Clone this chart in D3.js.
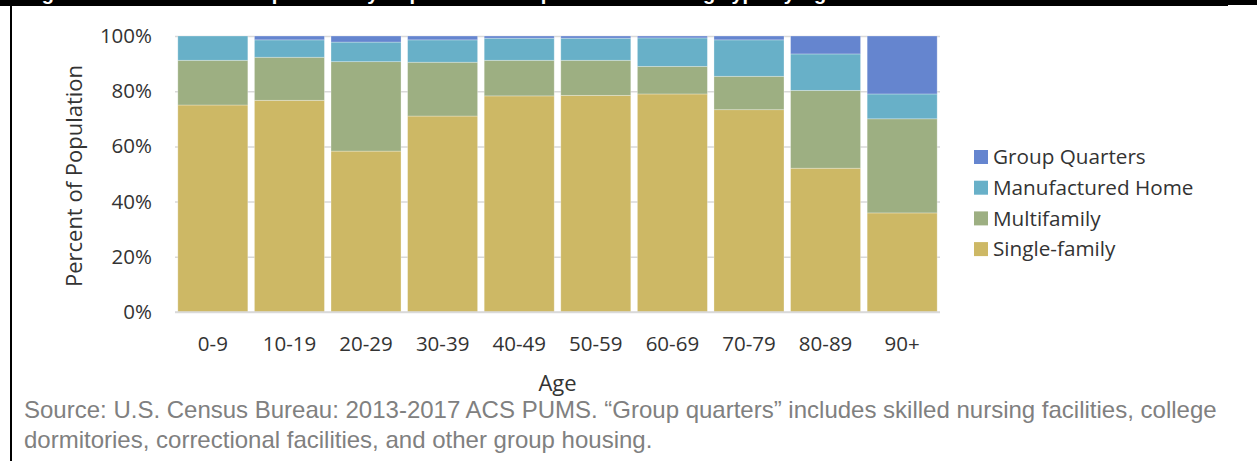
<!DOCTYPE html>
<html>
<head>
<meta charset="utf-8">
<script src="https://cdn.jsdelivr.net/npm/d3@7"></script>
<style>
  html, body { margin: 0; padding: 0; background: #fff; }
  svg { display: block; }
</style>
</head>
<body>
<svg id="chart" width="1257" height="461"></svg>
<script>
// ---- Data (percent of population) ----
const categories = ["0-9","10-19","20-29","30-39","40-49","50-59","60-69","70-79","80-89","90+"];
const singleFamily  = [75.0, 76.7, 58.3, 71.0, 78.3, 78.5, 79.0, 73.3, 52.1, 35.9];
const multifamily   = [16.2, 15.6, 32.4, 19.5, 12.9, 12.7, 10.0, 12.1, 28.2, 34.1];
const manufactured  = [ 8.8,  6.3,  7.1,  8.1,  8.0,  8.0, 10.3, 13.2, 13.2,  9.0];
const groupQuarters = [ 0.0,  1.4,  2.2,  1.4,  0.8,  0.8,  0.7,  1.4,  6.5, 21.0];
const seriesNames = ["Single-family", "Multifamily", "Manufactured Home", "Group Quarters"];
const yTicks = [0, 20, 40, 60, 80, 100];
const titleText = "Figure 10: Share of the Population by Population Group in Each Housing Type by Age";
const sourceLines = [
  "Source: U.S. Census Bureau: 2013-2017 ACS PUMS. \u201CGroup quarters\u201D includes skilled nursing facilities, college",
  "dormitories, correctional facilities, and other group housing."
];

const colors = {
  "Single-family": "#CDB865",
  "Multifamily": "#9DAF82",
  "Manufactured Home": "#68B0C8",
  "Group Quarters": "#6585CF"
};

const seriesValues = [singleFamily, multifamily, manufactured, groupQuarters];
const table = categories.map((c, i) => {
  const row = { age: c };
  seriesNames.forEach((s, k) => row[s] = seriesValues[k][i]);
  return row;
});

const svg = d3.select("#chart");
const textColor = "#333333";
const axisFont = "'Open Sans', 'Noto Sans', sans-serif";

// Frame decorations
svg.append("rect").attr("x", 0).attr("y", 0).attr("width", 1228).attr("height", 6).attr("fill", "#000");
svg.append("rect").attr("x", 1228).attr("y", 0).attr("width", 29).attr("height", 5).attr("fill", "#000");
svg.append("rect").attr("x", 10).attr("y", 0).attr("width", 2).attr("height", 461).attr("fill", "#000");

// Clipped title (only descenders visible in the black band, as in the reference)
svg.append("defs").append("clipPath").attr("id", "titleclip")
  .append("rect").attr("x", 0).attr("y", 0).attr("width", 1257).attr("height", 6);
svg.append("text")
  .attr("clip-path", "url(#titleclip)")
  .attr("x", 24).attr("y", 0)
  .attr("fill", "#fff")
  .attr("font-family", "'Liberation Sans', Arial, sans-serif")
  .attr("font-weight", "bold")
  .attr("font-size", 20)
  .text(titleText);

// Scales
const x = d3.scaleBand().domain(categories).range([175, 940]).paddingInner(0.086).paddingOuter(0.037);
const y = d3.scaleLinear().domain([0, 100]).range([312, 36]);

// Gridlines + y labels
const yAxis = d3.axisLeft(y).tickValues(yTicks).tickSize(-(940 - 175)).tickPadding(23)
  .tickFormat(d => d + "%");
const gy = svg.append("g").attr("transform", "translate(175,0)").call(yAxis);
gy.select(".domain").remove();
gy.selectAll(".tick line").attr("stroke", "#d9d9d9").attr("stroke-width", 1.5);
gy.selectAll(".tick text").attr("fill", textColor).attr("font-family", axisFont).attr("font-size", 20.5);

// Stacked bars
const stack = d3.stack().keys(seriesNames);
const layers = stack(table);
svg.append("g").selectAll("g").data(layers).join("g")
  .attr("fill", d => colors[d.key])
  .selectAll("rect").data(d => d).join("rect")
  .attr("x", d => x(d.data.age))
  .attr("width", x.bandwidth())
  .attr("y", d => y(d[1]))
  .attr("height", d => y(d[0]) - y(d[1]))
  .attr("stroke", "#ffffff").attr("stroke-opacity", 0.35).attr("stroke-width", 0.8);

// Baseline redraw
svg.append("line").attr("x1", 175).attr("x2", 940).attr("y1", y(0)).attr("y2", y(0))
  .attr("stroke", "#d9d9d9").attr("stroke-width", 1.5);

// X axis labels
const xAxis = d3.axisBottom(x).tickSize(0).tickPadding(24);
const gx = svg.append("g").attr("transform", `translate(0,${y(0)})`).call(xAxis);
gx.select(".domain").remove();
gx.selectAll(".tick text").attr("fill", textColor).attr("font-family", axisFont).attr("font-size", 20.5);

// Axis titles
svg.append("text").attr("x", 557.5).attr("y", 391).attr("text-anchor", "middle")
  .attr("fill", textColor).attr("font-family", axisFont).attr("font-size", 22).text("Age");
svg.append("text").attr("transform", "translate(82,176) rotate(-90)").attr("text-anchor", "middle")
  .attr("fill", textColor).attr("font-family", axisFont).attr("font-size", 22).text("Percent of Population");

// Legend
const legendOrder = ["Group Quarters", "Manufactured Home", "Multifamily", "Single-family"];
const lg = svg.append("g");
legendOrder.forEach((name, i) => {
  const cy = 157 + i * 30.7;
  lg.append("rect").attr("x", 974).attr("y", cy - 7).attr("width", 14).attr("height", 14).attr("fill", colors[name]);
  lg.append("text").attr("x", 993).attr("y", cy).attr("dy", "0.35em")
    .attr("fill", textColor).attr("font-family", axisFont).attr("font-size", 20.7).text(name);
});

// Source note
sourceLines.forEach((line, i) => {
  svg.append("text").attr("x", 24).attr("y", 418 + i * 30)
    .attr("fill", "#808080").attr("font-family", "'Liberation Sans', Arial, sans-serif")
    .attr("font-size", 24).text(line);
});
</script>
</body>
</html>
